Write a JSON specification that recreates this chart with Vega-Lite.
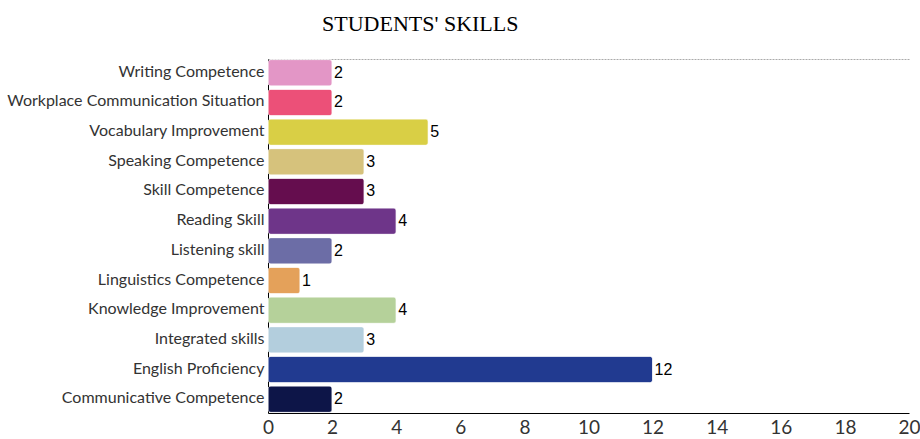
{
  "$schema": "https://vega.github.io/schema/vega-lite/v6.json",
  "width": 641,
  "height": 354,
  "autosize": {"type": "none"},
  "padding": {"left": 268, "top": 59, "right": 11, "bottom": 26},
  "background": "white",
  "title": {
    "text": "STUDENTS' SKILLS",
    "font": "Liberation Serif",
    "fontSize": 22,
    "fontWeight": "normal",
    "color": "#000000",
    "anchor": "start",
    "frame": "group",
    "dx": 54,
    "offset": 23
  },
  "config": {
    "view": {"stroke": null},
    "axisTop": {"labels": false, "ticks": false, "grid": false, "domainColor": "#aaaaaa", "domainDash": [2, 1]}
  },
  "data": {
    "values": [
      {"skill": "Writing Competence", "count": 2, "color": "#E396C6"},
      {"skill": "Workplace Communication Situation", "count": 2, "color": "#EC5078"},
      {"skill": "Vocabulary Improvement", "count": 5, "color": "#D9CF45"},
      {"skill": "Speaking Competence", "count": 3, "color": "#D6C27C"},
      {"skill": "Skill Competence", "count": 3, "color": "#650D4E"},
      {"skill": "Reading Skill", "count": 4, "color": "#6E3589"},
      {"skill": "Listening skill", "count": 2, "color": "#6C6DA6"},
      {"skill": "Linguistics Competence", "count": 1, "color": "#E4A15A"},
      {"skill": "Knowledge Improvement", "count": 4, "color": "#B5D19A"},
      {"skill": "Integrated skills", "count": 3, "color": "#B3CEDD"},
      {"skill": "English Proficiency", "count": 12, "color": "#213A90"},
      {"skill": "Communicative Competence", "count": 2, "color": "#0D1548"}
    ]
  },
  "encoding": {
    "y": {
      "field": "skill",
      "type": "nominal",
      "sort": null,
      "scale": {"paddingInner": 0.11, "paddingOuter": 0.02},
      "axis": {
        "title": null,
        "ticks": false,
        "domain": true,
        "domainColor": "#000000",
        "domainWidth": 1,
        "labelFont": "Lato",
        "labelFontSize": 16,
        "labelColor": "#333333",
        "labelPadding": 4,
        "labelLimit": 400,
        "labelOffset": -1
      }
    }
  },
  "layer": [
    {
      "mark": {"type": "bar", "cornerRadius": 3, "stroke": "#ffffff", "strokeOpacity": 0.6, "strokeWidth": 1},
      "encoding": {
        "x": {
          "field": "count",
          "type": "quantitative",
          "scale": {"domain": [0, 20], "nice": false},
          "axis": {
            "orient": "bottom",
            "title": null,
            "values": [0, 2, 4, 6, 8, 10, 12, 14, 16, 18, 20],
            "grid": false,
            "ticks": false,
            "domainColor": "#000000",
            "domainWidth": 1,
            "labelFont": "Lato",
            "labelFontSize": 19,
            "labelColor": "#333333",
            "labelPadding": 5,
            "labelFlush": false
          }
        },
        "color": {"field": "color", "type": "nominal", "scale": null, "legend": null}
      }
    },
    {
      "mark": {"type": "text", "align": "left", "dx": 2, "font": "Liberation Sans", "fontSize": 16, "color": "#000000"},
      "encoding": {
        "x": {"field": "count", "type": "quantitative", "axis": null},
        "text": {"field": "count", "type": "quantitative"}
      }
    },
    {
      "mark": {"type": "text", "opacity": 0},
      "encoding": {
        "x": {
          "field": "count",
          "type": "quantitative",
          "axis": {"orient": "top", "title": null, "labels": false, "ticks": false, "grid": false}
        },
        "text": {"value": ""}
      }
    }
  ],
  "resolve": {"axis": {"x": "independent"}}
}
